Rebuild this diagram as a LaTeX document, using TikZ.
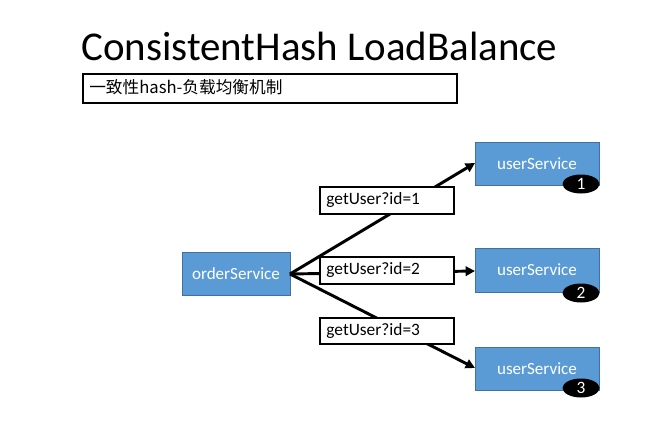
\documentclass[tikz,border=0pt]{standalone}
\usepackage{fontspec}
\setmainfont{Carlito}
\newfontfamily\cjk{Noto Sans CJK SC}
\usetikzlibrary{shapes.geometric,arrows.meta}
\definecolor{svcblue}{HTML}{5B9BD5}
\definecolor{svcedge}{HTML}{41719C}
\begin{document}
\begin{tikzpicture}[x=0.75pt,y=-0.75pt,
  svc/.style={draw=svcedge,line width=0.6pt,fill=svcblue,text=white,font=\fontsize{12.8}{15}\selectfont,inner sep=0pt},
  lbl/.style={draw=black,line width=1.2pt,fill=white,font=\fontsize{13}{15}\selectfont,inner sep=0pt,anchor=north west,text width=137*0.75pt-2pt,align=left},
  badge/.style={ellipse,fill=black,text=white,inner sep=0pt,minimum width=37*0.75pt,minimum height=19*0.75pt,font=\fontsize{13}{15}\selectfont},
  conn/.style={line width=2.2pt,-{Triangle[length=7pt,width=7pt]}}]
\useasboundingbox (0,0) rectangle (669,440);
\fill[white] (0,0) rectangle (669,440);
\node[anchor=base west,inner sep=0pt,font=\fontsize{30.7}{34}\selectfont] (title) at (81,60) {ConsistentHash LoadBalance};
\node[draw=black,line width=1.2pt,anchor=north west,minimum width=374*0.75pt,minimum height=29*0.75pt,inner sep=0pt] (sub) at (82,73) {};
\node[anchor=west,inner sep=0pt,font=\cjk\fontsize{12.5}{14}\selectfont] (subt) at (89,87.5) {一致性hash-负载均衡机制};
\node[svc,minimum width=108*0.75pt,minimum height=43*0.75pt] (order) at (236,273.5) {orderService};
\node[svc,minimum width=124*0.75pt,minimum height=43*0.75pt] (u1) at (537,163.5) {userService};
\node[svc,minimum width=124*0.75pt,minimum height=44*0.75pt] (u2) at (537,270) {userService};
\node[svc,minimum width=124*0.75pt,minimum height=43*0.75pt] (u3) at (537,368.5) {userService};
\coordinate (s) at (290,274);
\coordinate (t1) at (475,163);
\coordinate (t2) at (475,271);
\coordinate (t3) at (475,368);
\draw[conn] (s) -- (t1);
\draw[conn] (s) -- (t2);
\draw[conn] (s) -- (t3);
\node[badge] (b1) at (581,184) {1};
\node[badge] (b2) at (581,293) {2};
\node[badge] (b3) at (581,388) {3};
\node[lbl,minimum height=27*0.75pt] (l1) at (319,186) {\hspace*{5pt}getUser?id=1};
\node[lbl,minimum height=27*0.75pt] (l2) at (319,256) {\hspace*{5pt}getUser?id=2};
\node[lbl,minimum height=26*0.75pt] (l3) at (319,317) {\hspace*{5pt}getUser?id=3};
\end{tikzpicture}
\end{document}
